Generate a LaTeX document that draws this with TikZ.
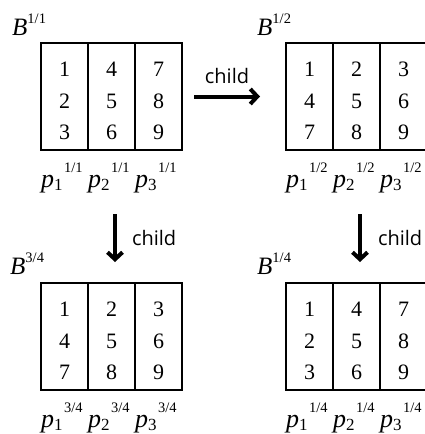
\documentclass[tikz,border=0pt]{standalone}
\usepackage{fontspec}
\setmainfont{Liberation Serif}
\newfontfamily\childfont{Open Sans}
\usetikzlibrary{arrows.meta,positioning}
\newcommand{\cellnums}[3]{\raisebox{-5.5pt}[\height][\depth]{\begin{tabular}{@{}c@{}}#1\\#2\\#3\end{tabular}}}
\newcommand{\plab}[2]{{\fontsize{26}{26}\selectfont\itshape p}\raisebox{-3pt}{\fontsize{17}{17}\selectfont #1}\hspace{1.5pt}\raisebox{15pt}{\fontsize{14.5}{14.5}\selectfont #2}}
\newcommand{\blab}[1]{{\fontsize{25}{25}\selectfont\itshape B}\raisebox{12pt}{\fontsize{14.5}{14.5}\selectfont #1}}
\tikzset{
  cell/.style={
    draw,
    line width=1.4pt,
    outer sep=0pt,
    inner sep=0pt,
    minimum width=47pt,
    minimum height=107pt,
    font=\fontsize{22}{31.5}\selectfont
  },
  plabel/.style={anchor=base west, inner sep=0pt},
  blabel/.style={anchor=base west, inner sep=0pt},
  childarrow/.style={line width=4pt, -{Straight Barb[length=7pt,width=15pt]}},
  childtext/.style={font=\childfont\fontsize{20}{20}\selectfont, inner sep=0pt}
}

\begin{document}
\begin{tikzpicture}[x=1pt,y=-1pt]
  \useasboundingbox (0,0) rectangle (424,434);

  % top left: B^{1/1}
  \node[cell] (ta1) at (64.5,96.5) {\cellnums{1}{2}{3}};
  \node[cell, right=0pt of ta1] (ta2) {\cellnums{4}{5}{6}};
  \node[cell, right=0pt of ta2] (ta3) {\cellnums{7}{8}{9}};
  \node[blabel] (tab) at ([xshift=-29pt,yshift=8pt]ta1.north west) {\blab{1/1}};
  \node[plabel] (tap1) at ([yshift=-37pt]ta1.south west) {\plab{1}{1/1}};
  \node[plabel] (tap2) at ([yshift=-37pt]ta2.south west) {\plab{2}{1/1}};
  \node[plabel] (tap3) at ([yshift=-37pt]ta3.south west) {\plab{3}{1/1}};

  % top right: B^{1/2}
  \node[cell] (tb1) at (309.5,96.5) {\cellnums{1}{4}{7}};
  \node[cell, right=0pt of tb1] (tb2) {\cellnums{2}{5}{8}};
  \node[cell, right=0pt of tb2] (tb3) {\cellnums{3}{6}{9}};
  \node[blabel] (tbb) at ([xshift=-29pt,yshift=8pt]tb1.north west) {\blab{1/2}};
  \node[plabel] (tbp1) at ([yshift=-37pt]tb1.south west) {\plab{1}{1/2}};
  \node[plabel] (tbp2) at ([yshift=-37pt]tb2.south west) {\plab{2}{1/2}};
  \node[plabel] (tbp3) at ([yshift=-37pt]tb3.south west) {\plab{3}{1/2}};

  % bottom left: B^{3/4}
  \node[cell] (ba1) at (64.5,336.5) {\cellnums{1}{4}{7}};
  \node[cell, right=0pt of ba1] (ba2) {\cellnums{2}{5}{8}};
  \node[cell, right=0pt of ba2] (ba3) {\cellnums{3}{6}{9}};
  \node[blabel] (bab) at ([xshift=-31pt,yshift=9pt]ba1.north west) {\blab{3/4}};
  \node[plabel] (bap1) at ([yshift=-37pt]ba1.south west) {\plab{1}{3/4}};
  \node[plabel] (bap2) at ([yshift=-37pt]ba2.south west) {\plab{2}{3/4}};
  \node[plabel] (bap3) at ([yshift=-37pt]ba3.south west) {\plab{3}{3/4}};

  % bottom right: B^{1/4}
  \node[cell] (bb1) at (309.5,336.5) {\cellnums{1}{2}{3}};
  \node[cell, right=0pt of bb1] (bb2) {\cellnums{4}{5}{6}};
  \node[cell, right=0pt of bb2] (bb3) {\cellnums{7}{8}{9}};
  \node[blabel] (bbb) at ([xshift=-29pt,yshift=9pt]bb1.north west) {\blab{1/4}};
  \node[plabel] (bbp1) at ([yshift=-37pt]bb1.south west) {\plab{1}{1/4}};
  \node[plabel] (bbp2) at ([yshift=-37pt]bb2.south west) {\plab{2}{1/4}};
  \node[plabel] (bbp3) at ([yshift=-37pt]bb3.south west) {\plab{3}{1/4}};

  % child arrows
  \draw[childarrow] ([xshift=12pt]ta3.east) -- ([xshift=-26pt]tb1.west)
    node[childtext, midway, anchor=base, yshift=13pt] {child};
  \draw[childarrow] ([xshift=3.5pt,yshift=-64pt]ta2.south) -- ([xshift=3.5pt,yshift=21pt]ba2.north)
    node[childtext, midway, anchor=base west, xshift=15pt, yshift=-7pt] {child};
  \draw[childarrow] ([xshift=3.5pt,yshift=-64pt]tb2.south) -- ([xshift=3.5pt,yshift=21pt]bb2.north)
    node[childtext, midway, anchor=base west, xshift=16pt, yshift=-7pt] {child};
\end{tikzpicture}
\end{document}
